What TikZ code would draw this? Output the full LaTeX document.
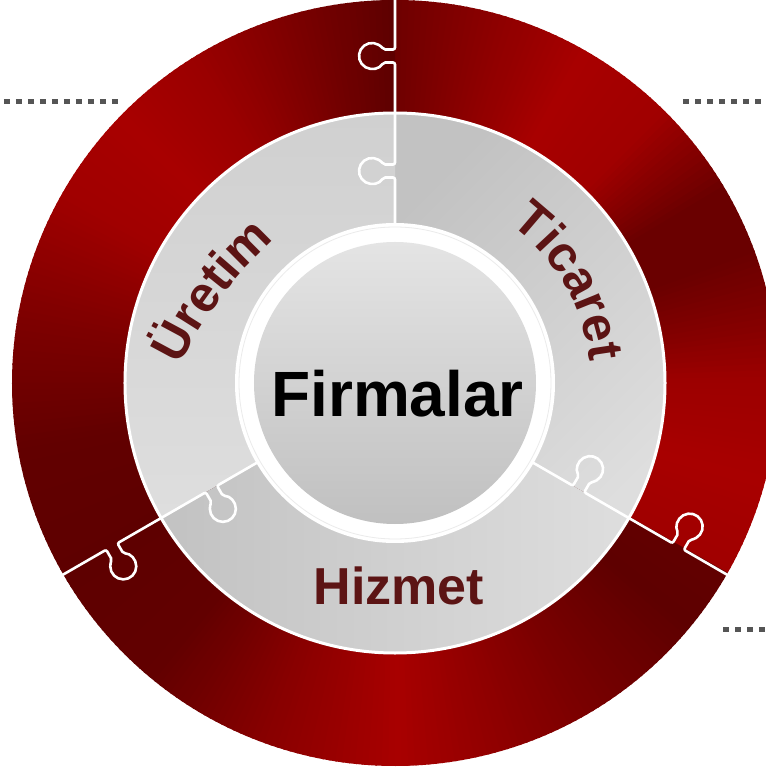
\documentclass[tikz,border=0pt]{standalone}
\usepackage{fontspec}
\setmainfont{Liberation Sans}
\usetikzlibrary{decorations.text,calc}
\definecolor{rb}{RGB}{168,0,0}
\definecolor{rd}{RGB}{90,0,0}
\definecolor{txtred}{RGB}{92,20,20}
\definecolor{gdark}{RGB}{194,194,194}
\definecolor{glight}{RGB}{222,222,222}
\definecolor{dotgray}{RGB}{85,85,85}
\tikzset{
  seamline/.style={draw=white,line width=2.6pt,rounded corners=2pt},
  dotline/.style={draw=dotgray,line width=5pt,dash pattern=on 6pt off 6pt},
  arctext/.style={decorate,decoration={text along path,text align=center,
     text={|\color{txtred}\fontsize{50}{50}\selectfont\bfseries|#1}}}
}
\begin{document}
\begin{tikzpicture}[x=1pt,y=1pt]
\useasboundingbox (-395,-390) rectangle (370,383);
% ---- red outer ring, angular shading by thin slices
\foreach \a/\b/\p/\q in {-30/-15/90/100,-15/0/100/85,0/10/85/50,10/20/50/20,20/30/20/20,
   30/45/20/90,45/60/90/100,60/80/100/50,80/90/50/25,
   90/100/5/30,100/120/30/80,120/135/80/100,135/150/100/90,150/170/90/45,170/190/45/10,190/210/10/5,
   210/230/5/10,230/250/10/60,250/270/60/100,270/280/100/80,280/300/80/40,300/320/40/5,320/330/5/10}{
  \pgfmathtruncatemacro\n{\b-\a-1}
  \foreach \i [evaluate=\i as \t using \a+\i,
               evaluate=\i as \tt using \a+\i+1.3,
               evaluate=\i as \pc using {\p+(\q-\p)*\i/(\b-\a)}] in {0,...,\n}{
    \fill[rb!\pc!rd] (0,0) -- (\t:383pt) arc[start angle=\t,end angle=\tt,radius=383pt] -- cycle;
  }
}
% ---- gray middle ring sectors
\shade[top color=gdark,bottom color=glight,shading angle=45]
  (0,0) -- (-30:270pt) arc[start angle=-30,end angle=90,radius=270pt] -- cycle;
\shade[top color={rgb,255:red,208;green,208;blue,208},bottom color={rgb,255:red,222;green,222;blue,222}]
  (0,0) -- (90:270pt) arc[start angle=90,end angle=210,radius=270pt] -- cycle;
\shade[left color=gdark,right color=glight]
  (0,0) -- (210:270pt) arc[start angle=210,end angle=330,radius=270pt] -- cycle;
\draw[white,line width=3pt] (0,0) circle[radius=270pt];
% ---- puzzle seams
\foreach \th in {90,210,330}{
  \begin{scope}[rotate=\th]
    \draw[seamline] (150,0) -- (205.5,0) -- (205.5,11.7)
      arc[start angle=240,end angle=-60,radius=13pt] -- (218.5,0) -- (320.5,0) -- (320.5,11.7)
      arc[start angle=240,end angle=-60,radius=13pt] -- (333.5,0) -- (386,0);
  \end{scope}
}
% ---- centre
\fill[white] (0,0) circle[radius=160pt];
\draw[black!8,line width=0.8pt] (0,0) circle[radius=156pt];
\shade[top color={rgb,255:red,228;green,228;blue,228},bottom color={rgb,255:red,192;green,192;blue,192}]
  (0,0) circle[radius=141pt];
% ---- texts
\node[anchor=base,font=\fontsize{64}{64}\selectfont\bfseries,text=black] (firm) at (2.5,-34) {Firmalar};
\node[anchor=base,font=\fontsize{52}{52}\selectfont\bfseries,text=txtred] (hiz) at (4,-221) {Hizmet};
\coordinate (uc) at (145.5,-155.7);
\path[arctext={Üretim}] ($(uc)+(160:400pt)$) arc[start angle=160,end angle=126,radius=400pt];
\path[arctext={Ticaret}] (75:196pt) arc[start angle=75,end angle=-15,radius=196pt];
% ---- dotted leader stubs
\coordinate (l1) at (-391,281); \coordinate (l2) at (-277,281);
\coordinate (r1) at (288,281);  \coordinate (r2) at (372,281);
\coordinate (s1) at (328,-246); \coordinate (s2) at (372,-246);
\draw[dotline] (l1) -- (l2);
\draw[dotline] (r1) -- (r2);
\draw[dotline] (s1) -- (s2);
\end{tikzpicture}
\end{document}
